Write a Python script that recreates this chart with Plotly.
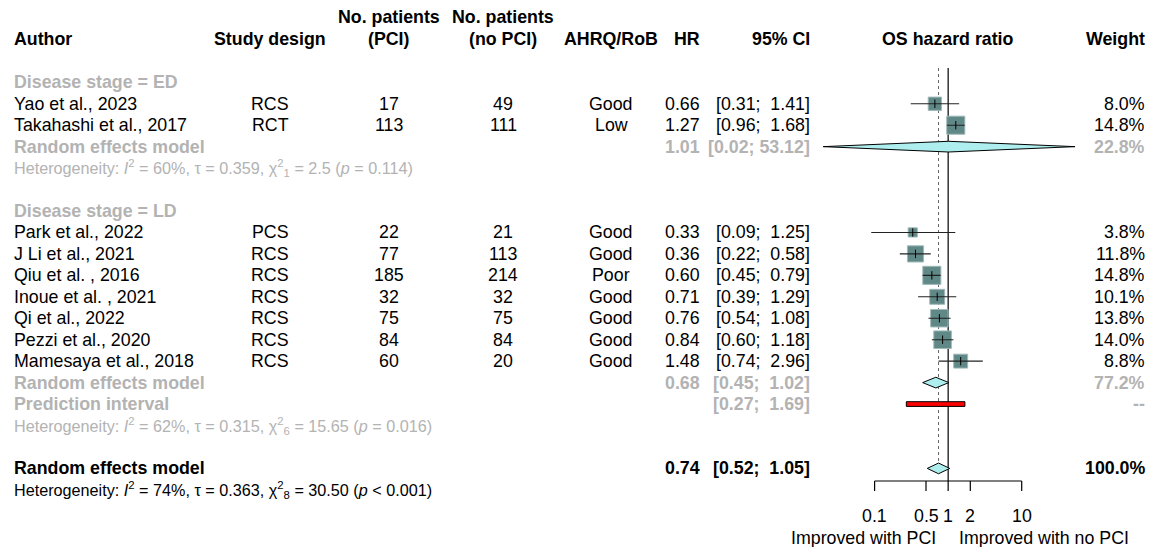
import math
import plotly.graph_objects as go

# ---------------- data ----------------
authors = ["Yao et al., 2023", "Takahashi et al., 2017",
           "Park et al., 2022", "J Li et al., 2021", "Qiu et al. , 2016",
           "Inoue et al. , 2021", "Qi et al., 2022", "Pezzi et al., 2020",
           "Mamesaya et al., 2018"]
stage = ["ED", "ED", "LD", "LD", "LD", "LD", "LD", "LD", "LD"]
design = ["RCS", "RCT", "PCS", "RCS", "RCS", "RCS", "RCS", "RCS", "RCS"]
n_pci = [17, 113, 22, 77, 185, 32, 75, 84, 60]
n_nopci = [49, 111, 21, 113, 214, 32, 75, 84, 20]
quality = ["Good", "Low", "Good", "Good", "Poor", "Good", "Good", "Good", "Good"]
hr = [0.66, 1.27, 0.33, 0.36, 0.60, 0.71, 0.76, 0.84, 1.48]
ci_lo = [0.31, 0.96, 0.09, 0.22, 0.45, 0.39, 0.54, 0.60, 0.74]
ci_hi = [1.41, 1.68, 1.25, 0.58, 0.79, 1.29, 1.08, 1.18, 2.96]
weight = [8.0, 14.8, 3.8, 11.8, 14.8, 10.1, 13.8, 14.0, 8.8]

groups = ["ED", "LD"]
group_hr = [1.01, 0.68]
group_lo = [0.02, 0.45]
group_hi = [53.12, 1.02]
group_w = [22.8, 77.2]
group_pi = [None, (0.27, 1.69)]
group_het = [("60%", "0.359", "1", "2.5", "= 0.114"),
             ("62%", "0.315", "6", "15.65", "= 0.016")]

overall_hr = 0.74
overall_lo = 0.52
overall_hi = 1.05
overall_het = ("74%", "0.363", "8", "30.50", "< 0.001")

tick_vals = [0.1, 0.5, 1, 2, 10]
tick_text = ["0.1", "0.5", "1", "2", "10"]
label_left = "Improved with PCI"
label_right = "Improved with no PCI"

# ---------------- geometry ----------------
W, H = 1162, 547
ROW0 = 82.3      # pixel y of first row
DROW = 21.45     # pixel height of a row
REF_PX = 948.15  # pixel x of HR = 1
DEC_PX = 73.55   # pixels per decade


def rowpx(p):
    return (p - ROW0) / DROW


FONT = "Liberation Sans, Arial, Helvetica, sans-serif"
FS = 17.8
FS_HET = 16.2
BLACK = "#000000"
GRAY = "#B3B3B3"
SQ_FILL = "#5f8886"
SQ_LINE = "#9fbab8"
DIA_FILL = "#AFEEEE"

annotations = []


def txt(x, y, s, anchor="left", color=BLACK, bold=False, size=FS):
    if bold:
        s = "<b>" + s + "</b>"
    annotations.append(dict(x=x, y=y, xref="x", yref="y", text=s, showarrow=False,
                            xanchor=anchor, yanchor="middle",
                            font=dict(family=FONT, size=size, color=color)))


def fmt_ci(lo, hi):
    pad = "\u00a0" if hi < 10 else ""
    return "[%.2f;%s %.2f]" % (lo, pad, hi)


def het_text(h):
    i2, tau, df, q, p = h
    return ("Heterogeneity: <i>I</i><sup>2</sup> = %s, \u03c4 = %s, "
            "\u03c7<sup>2</sup><sub>%s</sub> = %s (<i>p</i> %s)" % (i2, tau, df, q, p))


# column x positions (pixels)
X_AUTH = 12
X_DES = 270
X_NP = 389
X_NN = 503
X_Q = 611
X_HR = 702
X_CI = 812
X_W = 1147

# headers
hy1 = rowpx(17.0)
hy2 = rowpx(38.8)
txt(X_AUTH, hy2, "Author", bold=True)
txt(X_DES, hy2, "Study design", "center", bold=True)
txt(X_NP, hy1, "No. patients", "center", bold=True)
txt(X_NP, hy2, "(PCI)", "center", bold=True)
txt(X_NN, hy1, "No. patients", "center", bold=True)
txt(X_NN, hy2, "(no PCI)", "center", bold=True)
txt(X_Q, hy2, "AHRQ/RoB", "center", bold=True)
txt(X_HR, hy2, "HR", "right", bold=True)
txt(X_CI, hy2, "95% CI", "right", bold=True)
txt(REF_PX, hy2, "OS hazard ratio", "center", bold=True)
txt(X_W, hy2, "Weight", "right", bold=True)

# rows
study_rows = []
diamonds = []   # (row, lo, hr, hi)
pi_rows = []
r = 0
for gi, g in enumerate(groups):
    txt(X_AUTH, r, "Disease stage = " + g, color=GRAY, bold=True)
    r += 1
    for i in range(len(authors)):
        if stage[i] != g:
            continue
        txt(X_AUTH, r, authors[i])
        txt(X_DES, r, design[i], "center")
        txt(X_NP, r, str(n_pci[i]), "center")
        txt(X_NN, r, str(n_nopci[i]), "center")
        txt(X_Q, r, quality[i], "center")
        txt(X_HR, r, "%.2f" % hr[i], "right")
        txt(X_CI, r, fmt_ci(ci_lo[i], ci_hi[i]), "right")
        txt(X_W, r, "%.1f%%" % weight[i], "right")
        study_rows.append((r, i))
        r += 1
    txt(X_AUTH, r, "Random effects model", color=GRAY, bold=True)
    txt(X_HR, r, "%.2f" % group_hr[gi], "right", color=GRAY, bold=True)
    txt(X_CI, r, fmt_ci(group_lo[gi], group_hi[gi]), "right", color=GRAY, bold=True)
    txt(X_W, r, "%.1f%%" % group_w[gi], "right", color=GRAY, bold=True)
    diamonds.append((r, group_lo[gi], group_hr[gi], group_hi[gi]))
    r += 1
    if group_pi[gi] is not None:
        lo, hi = group_pi[gi]
        txt(X_AUTH, r, "Prediction interval", color=GRAY, bold=True)
        txt(X_CI, r, fmt_ci(lo, hi), "right", color=GRAY, bold=True)
        txt(X_W, r, "--", "right", color=GRAY, bold=True)
        pi_rows.append((r, lo, hi))
        r += 1
    txt(X_AUTH, r, het_text(group_het[gi]), color=GRAY, size=FS_HET)
    r += 2

overall_row = r
txt(X_AUTH, r, "Random effects model", bold=True)
txt(X_HR, r, "%.2f" % overall_hr, "right", bold=True)
txt(X_CI, r, fmt_ci(overall_lo, overall_hi), "right", bold=True)
txt(X_W, r, "100.0%", "right", bold=True)
diamonds.append((r, overall_lo, overall_hr, overall_hi))
txt(X_AUTH, r + 1, het_text(overall_het), size=FS_HET)

# ---------------- forest ----------------
fig = go.Figure()
LOG_SPAN = 2.1
x2_dom = [(REF_PX - DEC_PX * LOG_SPAN) / W, (REF_PX + DEC_PX * LOG_SPAN) / W]

top_row = rowpx(68)
axis_row = rowpx(481)
tick_row = rowpx(491)

shapes = []
# solid reference line at 1
shapes.append(dict(type="line", xref="x2", yref="y", x0=1, x1=1, y0=top_row, y1=axis_row,
                   line=dict(color=BLACK, width=1.2), layer="below"))
# dotted overall line
shapes.append(dict(type="line", xref="x2", yref="y", x0=overall_hr, x1=overall_hr,
                   y0=top_row, y1=overall_row - 0.25,
                   line=dict(color="#666666", width=1, dash="dot"), layer="below"))
# axis line and ticks
shapes.append(dict(type="line", xref="x2", yref="y", x0=tick_vals[0], x1=tick_vals[-1],
                   y0=axis_row, y1=axis_row, line=dict(color=BLACK, width=1.2)))
for tv, tt in zip(tick_vals, tick_text):
    shapes.append(dict(type="line", xref="x2", yref="y", x0=tv, x1=tv,
                       y0=axis_row, y1=tick_row, line=dict(color=BLACK, width=1.2)))
    annotations.append(dict(x=math.log10(tv), y=rowpx(516), xref="x2", yref="y", text=tt,
                            showarrow=False, xanchor="center", yanchor="middle",
                            font=dict(family=FONT, size=FS, color=BLACK)))
annotations.append(dict(x=REF_PX - 10, y=rowpx(538), xref="x", yref="y", text=label_left,
                        showarrow=False, xanchor="right", yanchor="middle",
                        font=dict(family=FONT, size=FS, color=BLACK)))
annotations.append(dict(x=REF_PX + 9, y=rowpx(538), xref="x", yref="y", text=label_right,
                        showarrow=False, xanchor="left", yanchor="middle",
                        font=dict(family=FONT, size=FS, color=BLACK)))

# squares
sq_x = [hr[i] for _, i in study_rows]
sq_y = [rr for rr, _ in study_rows]
sq_s = [4.7 * math.sqrt(weight[i]) for _, i in study_rows]
fig.add_trace(go.Scatter(x=sq_x, y=sq_y, xaxis="x2", yaxis="y", mode="markers",
                         marker=dict(symbol="square", size=sq_s, color=SQ_FILL, opacity=1,
                                     line=dict(color=SQ_LINE, width=1)),
                         hoverinfo="skip", showlegend=False))
# CI lines
lx, ly = [], []
for rr, i in study_rows:
    lx += [ci_lo[i], ci_hi[i], None]
    ly += [rr, rr, None]
fig.add_trace(go.Scatter(x=lx, y=ly, xaxis="x2", yaxis="y", mode="lines",
                         line=dict(color="#222222", width=1.1),
                         hoverinfo="skip", showlegend=False))
fig.add_trace(go.Scatter(x=sq_x, y=sq_y, xaxis="x2", yaxis="y", mode="markers",
                         marker=dict(symbol="line-ns", size=6, opacity=1,
                                     line=dict(color=BLACK, width=1)),
                         hoverinfo="skip", showlegend=False))

# diamonds
DH = 0.25
for rr, lo, mid, hi in diamonds:
    fig.add_trace(go.Scatter(x=[lo, mid, hi, mid, lo], y=[rr, rr - DH, rr, rr + DH, rr],
                             xaxis="x2", yaxis="y", mode="lines", fill="toself",
                             fillcolor=DIA_FILL, line=dict(color=BLACK, width=1),
                             hoverinfo="skip", showlegend=False))
# prediction interval
PH = 0.11
for rr, lo, hi in pi_rows:
    fig.add_trace(go.Scatter(x=[lo, hi, hi, lo, lo], y=[rr - PH, rr - PH, rr + PH, rr + PH, rr - PH],
                             xaxis="x2", yaxis="y", mode="lines", fill="toself",
                             fillcolor="#FF0000", line=dict(color=BLACK, width=1),
                             hoverinfo="skip", showlegend=False))

fig.update_layout(
    width=W, height=H,
    margin=dict(l=0, r=0, t=0, b=0),
    paper_bgcolor="white", plot_bgcolor="rgba(0,0,0,0)",
    xaxis=dict(range=[0, W], domain=[0, 1], visible=False, fixedrange=True),
    xaxis2=dict(type="log", range=[-LOG_SPAN, LOG_SPAN], domain=x2_dom, anchor="y",
                visible=False, fixedrange=True),
    yaxis=dict(range=[rowpx(H), rowpx(0)], domain=[0, 1], visible=False, fixedrange=True),
    annotations=annotations,
    shapes=shapes,
    showlegend=False,
    hovermode=False,
)

fig.write_html("out.html", config={"displayModeBar": False},
               post_script="document.body.style.margin='0';document.body.style.overflow='hidden';")
